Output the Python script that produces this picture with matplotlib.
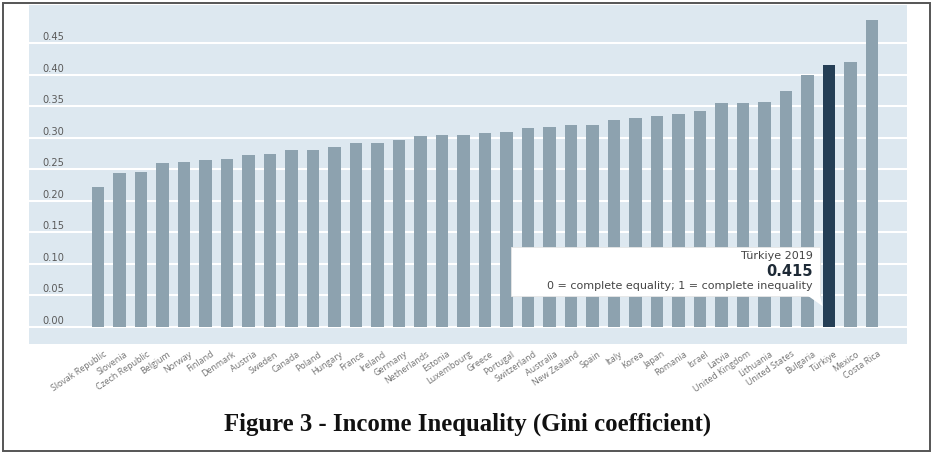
import matplotlib
matplotlib.use("Agg")
import matplotlib.pyplot as plt
from matplotlib.patches import Rectangle, Polygon
from matplotlib.transforms import ScaledTranslation
import numpy as np

countries = [
    "Slovak Republic", "Slovenia", "Czech Republic", "Belgium", "Norway", "Finland",
    "Denmark", "Austria", "Sweden", "Canada", "Poland", "Hungary", "France", "Ireland",
    "Germany", "Netherlands", "Estonia", "Luxembourg", "Greece", "Portugal",
    "Switzerland", "Australia", "New Zealand", "Spain", "Italy", "Korea", "Japan",
    "Romania", "Israel", "Latvia", "United Kingdom", "Lithuania", "United States",
    "Bulgaria", "Türkiye", "Mexico", "Costa Rica",
]
gini = [
    0.222, 0.244, 0.246, 0.260, 0.262, 0.264, 0.267, 0.273, 0.274, 0.280, 0.280,
    0.285, 0.292, 0.292, 0.296, 0.303, 0.305, 0.305, 0.308, 0.310, 0.315, 0.317,
    0.320, 0.320, 0.329, 0.331, 0.334, 0.338, 0.342, 0.355, 0.355, 0.357, 0.375,
    0.400, 0.415, 0.420, 0.487,
]
y_ticks = [0.00, 0.05, 0.10, 0.15, 0.20, 0.25, 0.30, 0.35, 0.40, 0.45]
highlight = "Türkiye"
highlight_year = 2019

BG = "#dde8f0"
BAR = "#8da2af"
BAR_HI = "#253f56"
TXT = "#5a5a5a"

fig = plt.figure(figsize=(9.32, 4.53), dpi=100)
W, H = 932, 453

# outer frame
fig.patches.append(Rectangle((3 / W, 2 / H), 927 / W, 448 / H, transform=fig.transFigure,
                             fill=False, edgecolor="#555555", linewidth=1.4))

ax = fig.add_axes([29 / W, 1 - 344 / H, 878 / W, 339 / H])
ax.set_facecolor(BG)
for s in ax.spines.values():
    s.set_visible(False)

x = np.arange(len(countries))
colors = [BAR_HI if c == highlight else BAR for c in countries]
ax.bar(x, gini, width=0.6, color=colors, zorder=3)

for t in y_ticks:
    ax.axhline(t, color="white", linewidth=1.5, zorder=1)
    ax.text(0.0148, t + 0.0095, f"{t:.2f}", transform=ax.get_yaxis_transform(),
            ha="left", va="center", fontsize=7.1, color=TXT, family="DejaVu Sans", zorder=4)

ax.set_xlim(-3.21, 37.63)
ax.set_ylim(-0.0275, 0.511)
ax.set_yticks([])
ax.set_xticks(x)
ax.set_xticklabels(countries, rotation=34, ha="right", va="top", fontsize=6.4,
                   color="#747474", family="Open Sans", rotation_mode="anchor")
ax.tick_params(axis="x", length=0, pad=4)
shift = ScaledTranslation(5 / 100, 0, fig.dpi_scale_trans)
for lbl in ax.get_xticklabels():
    lbl.set_transform(lbl.get_transform() + shift)

# tooltip for the highlighted country
hi = countries.index(highlight)
bx0, bx1 = (511 - 29) / 878, (820 - 29) / 878
by0, by1 = (344 - 296) / 339, (344 - 247) / 339
ax.add_patch(Rectangle((bx0, by0), bx1 - bx0, by1 - by0, transform=ax.transAxes,
                       facecolor="white", edgecolor="#e6e6e6", linewidth=0.6, zorder=5))
ax.add_patch(Polygon([(bx1 - 0.014, by0 + 0.001), (bx1, by0 + 0.001), (bx1 + 0.003, by0 - 0.03)],
                     closed=True, transform=ax.transAxes, facecolor="white",
                     edgecolor="none", zorder=5))
tx = (813 - 29) / 878
ax.text(tx, (344 - 256) / 339, f"{highlight} {highlight_year}", transform=ax.transAxes,
        ha="right", va="center", fontsize=8.0, color="#444444", family="DejaVu Sans", zorder=6)
ax.text(tx, (344 - 271) / 339, f"{gini[hi]:.3f}", transform=ax.transAxes,
        ha="right", va="center", fontsize=10.5, fontweight="bold", color="#1e2a36",
        family="DejaVu Sans", zorder=6)
ax.text(tx, (344 - 286) / 339, "0 = complete equality; 1 = complete inequality",
        transform=ax.transAxes, ha="right", va="center", fontsize=8.0, color="#444444",
        family="DejaVu Sans", zorder=6)

fig.text(468 / W, 1 - 424 / H, "Figure 3 - Income Inequality (Gini coefficient)",
         ha="center", va="center", fontsize=17.8, fontweight="bold",
         family="Liberation Serif", color="#111111")

fig.savefig("out.png", dpi=100, facecolor="white")
